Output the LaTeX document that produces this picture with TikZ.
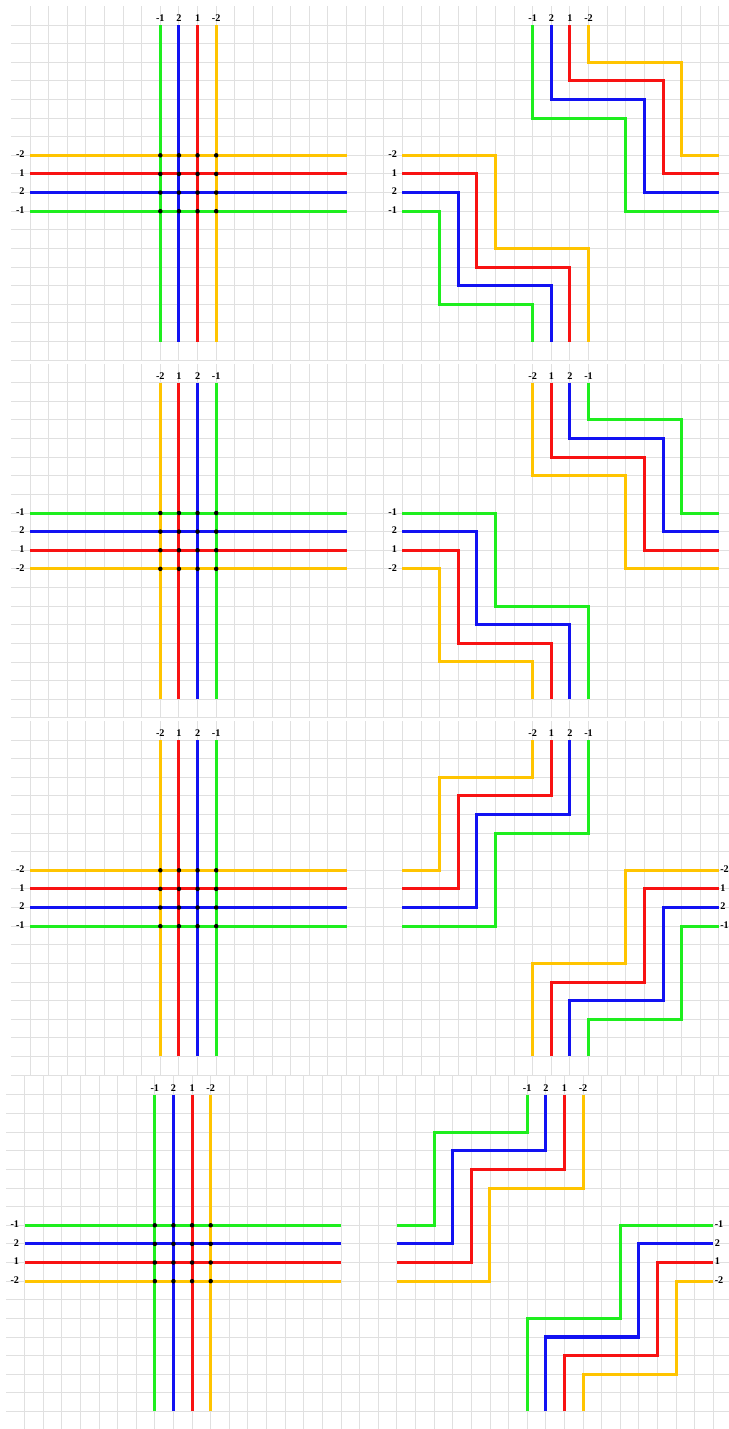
\documentclass[tikz,border=0pt]{standalone}
\usepackage{fontspec}
\setmainfont{Liberation Serif}

\definecolor{wiregreen}{RGB}{30,238,30}
\definecolor{wireblue}{RGB}{18,18,242}
\definecolor{wirered}{RGB}{248,18,18}
\definecolor{wireyellow}{RGB}{255,196,0}
\definecolor{gridgray}{RGB}{224,224,224}

% one sheet of squared paper, 18 squares high
\newcommand{\gridsheet}{%
  \foreach \i in {0,...,37} \draw[gridline] (\i,-1) -- (\i,18);
  \foreach \j in {0,...,18} \draw[gridline] (-1,\j) -- (38,\j);
}

% straight crossing with dots: #1 name, #2 columns, #3 rows
\newcommand{\crosspanel}[3]{%
  \foreach \cl/\lb [count=\idx from 7] in {#2} {
    \draw[track, draw=\cl] (\idx,0) -- (\idx,17);
    \node[toptag] (#1c\idx) at (\idx,-0.15) {\lb};
  }
  \foreach \cl/\lb [count=\idx from 7] in {#3} {
    \draw[track, draw=\cl] (0,\idx) -- (17,\idx);
    \node[lefttag] (#1r\idx) at (-0.28,\idx+0.12) {\lb};
  }
  \foreach \i in {7,...,10}
    \foreach \j in {7,...,10}
      \fill (\i,\j) circle (0.12);
}

% two stairs going right and down: #1 name, #2 columns, #3 rows
\newcommand{\zpanel}[3]{%
  \foreach \cl/\lb [count=\idx from 0] in {#2} {
    \draw[track, draw=\cl] (7+\idx,0) |- (12+\idx,5-\idx) |- (17,10-\idx);
    \node[toptag] (#1c\idx) at (7+\idx,-0.15) {\lb};
  }
  \foreach \cl/\lb [count=\idx from 0] in {#3} {
    \draw[track, draw=\cl] (0,7+\idx) -| (5-\idx,12+\idx) -| (10-\idx,17);
    \node[lefttag] (#1r\idx) at (-0.28,7.12+\idx) {\lb};
  }
}

% two stairs going left and down: #1 name, #2 columns (= rows)
\newcommand{\spanel}[2]{%
  \foreach \cl/\lb [count=\idx from 0] in {#2} {
    \draw[track, draw=\cl] (7+\idx,0) |- (2+\idx,2+\idx) |- (0,7+\idx);
    \draw[track, draw=\cl] (17,7+\idx) -| (12+\idx,12+\idx) -| (7+\idx,17);
    \node[toptag] (#1c\idx) at (7+\idx,-0.15) {\lb};
    \node[righttag] (#1r\idx) at (17.06,7.12+\idx) {\lb};
  }
}

\begin{document}
\begin{tikzpicture}[x=0.5cm, y=-0.5cm,
  gridline/.style={line width=0.7pt, draw=gridgray},
  track/.style={line width=2.3pt},
  tag/.style={font=\bfseries\fontsize{7.8}{9}\selectfont, inner sep=0pt},
  toptag/.style={tag, anchor=south},
  lefttag/.style={tag, anchor=base east},
  righttag/.style={tag, anchor=base west}
]
  \useasboundingbox (0,0) rectangle (39.15,76.75);
  \clip (0,0) rectangle (39.15,76.75);

  % first row
  \begin{scope}[shift={(1.611,1.343)}]
    \gridsheet
    \crosspanel{a}{wiregreen/-1,wireblue/2,wirered/1,wireyellow/-2}{wireyellow/-2,wirered/1,wireblue/2,wiregreen/-1}
    \begin{scope}[shift={(20,0)}]
      \zpanel{az}{wiregreen/-1,wireblue/2,wirered/1,wireyellow/-2}{wireyellow/-2,wirered/1,wireblue/2,wiregreen/-1}
    \end{scope}
  \end{scope}

  % second row
  \begin{scope}[shift={(1.611,20.553)}]
    \gridsheet
    \crosspanel{b}{wireyellow/-2,wirered/1,wireblue/2,wiregreen/-1}{wiregreen/-1,wireblue/2,wirered/1,wireyellow/-2}
    \begin{scope}[shift={(20,0)}]
      \zpanel{bz}{wireyellow/-2,wirered/1,wireblue/2,wiregreen/-1}{wiregreen/-1,wireblue/2,wirered/1,wireyellow/-2}
    \end{scope}
  \end{scope}

  % third row
  \begin{scope}[shift={(1.611,39.742)}]
    \gridsheet
    \crosspanel{c}{wireyellow/-2,wirered/1,wireblue/2,wiregreen/-1}{wireyellow/-2,wirered/1,wireblue/2,wiregreen/-1}
    \begin{scope}[shift={(20,0)}]
      \spanel{cs}{wireyellow/-2,wirered/1,wireblue/2,wiregreen/-1}
    \end{scope}
  \end{scope}

  % fourth row
  \begin{scope}[shift={(1.316,58.808)}]
    \gridsheet
    \crosspanel{d}{wiregreen/-1,wireblue/2,wirered/1,wireyellow/-2}{wiregreen/-1,wireblue/2,wirered/1,wireyellow/-2}
    \begin{scope}[shift={(20,0)}]
      \spanel{ds}{wiregreen/-1,wireblue/2,wirered/1,wireyellow/-2}
    \end{scope}
  \end{scope}
\end{tikzpicture}
\end{document}
